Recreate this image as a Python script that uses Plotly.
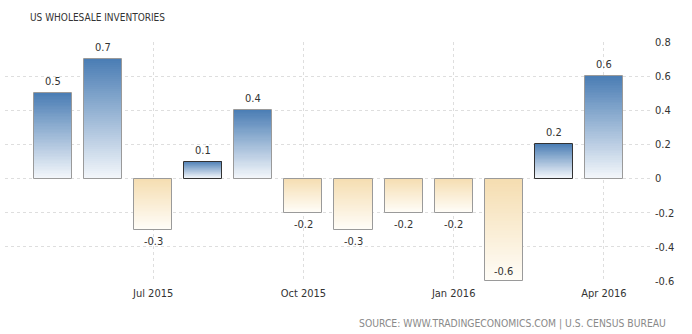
import plotly.graph_objects as go

# Monthly change in US wholesale inventories (%)
months = ["May 2015", "Jun 2015", "Jul 2015", "Aug 2015", "Sep 2015", "Oct 2015",
          "Nov 2015", "Dec 2015", "Jan 2016", "Feb 2016", "Mar 2016", "Apr 2016"]
values = [0.5, 0.7, -0.3, 0.1, 0.4, -0.2, -0.3, -0.2, -0.2, -0.6, 0.2, 0.6]

tick_months = ["Jul 2015", "Oct 2015", "Jan 2016", "Apr 2016"]
y_ticks = [0.8, 0.6, 0.4, 0.2, 0, -0.2, -0.4, -0.6]

# --- styling ---------------------------------------------------------------
FONT = "DejaVu Sans Condensed, DejaVu Sans"
POS_TOP, POS_BOTTOM = (74, 125, 180), (244, 247, 251)
NEG_TOP, NEG_BOTTOM = (245, 221, 176), (255, 253, 248)
BAR_WIDTH = 0.76
N_SLICES = 60
Y_RANGE = [-0.6, 0.8]
edge_colors = ["#9a9a9a"] * len(values)
edge_colors[3] = "#333333"
edge_colors[10] = "#333333"

x = list(range(len(values)))


def mix(c1, c2, t):
    return "rgb({},{},{})".format(*[round(a + (b - a) * t) for a, b in zip(c1, c2)])


fig = go.Figure()

# Vertical gradient: each bar is split into thin stacked slices, top colour
# fading to near-white at the bottom of the bar.
for k in range(N_SLICES):
    bases, heights, colors = [], [], []
    for v in values:
        top = max(v, 0)
        h = abs(v) / N_SLICES
        lo = top - (k + 1) * h
        bases.append(lo)
        heights.append(h)
        t = (k + 0.5) / N_SLICES
        if v >= 0:
            colors.append(mix(POS_TOP, POS_BOTTOM, t))
        else:
            colors.append(mix(NEG_TOP, NEG_BOTTOM, t))
    fig.add_trace(go.Bar(
        x=x, y=heights, base=bases, width=BAR_WIDTH,
        marker=dict(color=colors, line=dict(width=0)),
        hoverinfo="skip", showlegend=False,
    ))

# Outline of every bar
fig.add_trace(go.Bar(
    x=x, y=values, width=BAR_WIDTH,
    marker=dict(color="rgba(0,0,0,0)", line=dict(color=edge_colors, width=1)),
    hovertext=months, hoverinfo="text+y", showlegend=False,
))

fig.update_layout(barmode="overlay")

# Value labels
for xi, v in zip(x, values):
    if v >= 0:
        fig.add_annotation(x=xi, y=v, text=f"{v:g}", yanchor="bottom", yshift=3,
                           showarrow=False)
    elif v <= Y_RANGE[0]:
        fig.add_annotation(x=xi, y=v, text=f"{v:g}", yanchor="bottom", yshift=1,
                           showarrow=False)
    else:
        fig.add_annotation(x=xi, y=v, text=f"{v:g}", yanchor="top", yshift=-3,
                           showarrow=False)

fig.add_annotation(xref="paper", yref="paper", x=0, xshift=23, y=1, yshift=25,
                   text="US WHOLESALE INVENTORIES", showarrow=False,
                   xanchor="left", yanchor="middle",
                   font=dict(family=FONT, size=10, color="#333333"))
fig.add_annotation(xref="paper", yref="paper", x=1, xshift=18, y=0, yshift=-42,
                   text="SOURCE: WWW.TRADINGECONOMICS.COM | U.S. CENSUS BUREAU",
                   showarrow=False, xanchor="right", yanchor="middle",
                   font=dict(family=FONT, size=10.3, color="#8a8a8a"))

fig.update_layout(
    width=692, height=334,
    margin=dict(l=5, r=42, t=42, b=53),
    paper_bgcolor="white", plot_bgcolor="white",
    font=dict(family=FONT, size=11, color="#333333"),
    bargap=0,
    xaxis=dict(
        range=[-0.958, 11.92],
        tickvals=[months.index(m) for m in tick_months],
        ticktext=tick_months,
        showgrid=True, gridcolor="#dedede", griddash="dot", gridwidth=1,
        zeroline=False, showline=False, ticks="",
        ticklabelstandoff=4,
        tickfont=dict(size=11, color="#333333"),
        fixedrange=True,
    ),
    yaxis=dict(
        side="right", range=Y_RANGE,
        tickvals=y_ticks, ticktext=[f"{t:g}" for t in y_ticks],
        showgrid=True, gridcolor="#dedede", griddash="dot", gridwidth=1,
        zeroline=False, showline=False, ticks="",
        ticklabelstandoff=4,
        tickfont=dict(size=11, color="#333333"),
        fixedrange=True,
    ),
)

fig.write_html("out.html")
